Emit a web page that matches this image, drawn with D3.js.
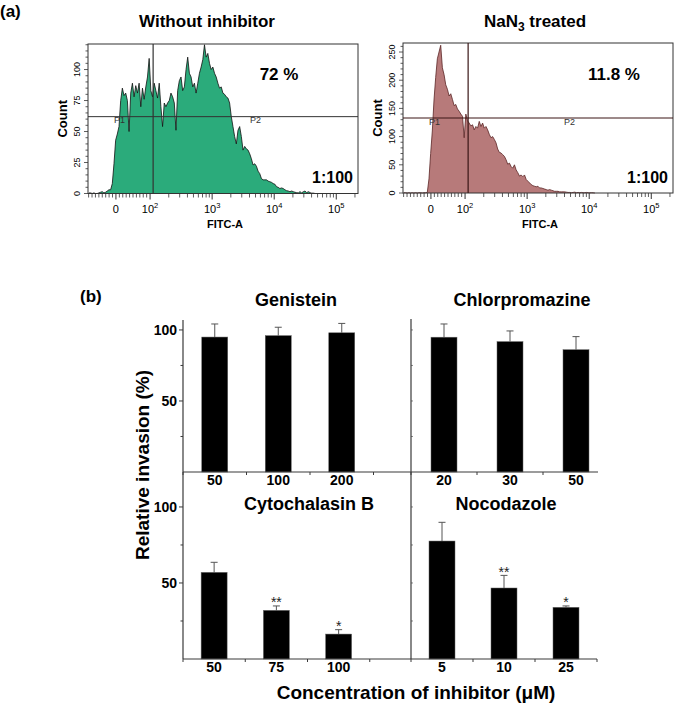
<!DOCTYPE html>
<html><head><meta charset="utf-8">
<script src="https://cdn.jsdelivr.net/npm/d3@7"></script>
<style>body{margin:0;background:#fff}svg{display:block}text{font-family:"Liberation Sans",Arial,sans-serif}</style>
</head><body><svg id="c" width="677" height="704"></svg>
<script>
// ---------------- DATA ----------------
// Histogram bins in display units (decades of the biexponential FITC-A axis)
const binStart = 1.0, binWidth = 0.027;
const withoutInhibitorCounts = [0.5,0.5,0,0.5,0,0,0.5,1,1.5,0.5, 1,2,3,3,8,24,43,48,54,75,
 85,79,81,75,50,81,89,78,87,81, 89,70,85,76,86,94,109,83,78,89,
 83,77,89,70,54,73,70,73,75,81, 78,73,51,83,91,94,83,86,100,110,
 97,94,86,89,81,89,97,102,108,120, 110,113,105,100,102,97,94,89,85,86,
 81,80,78,77,73,62,54,46,40,51, 54,46,35,38,36,35,32,28,23,24,
 22,18,16,12,11,11,11,10,9.5,9, 8,7.5,5.5,5,4,4.5,4,3,2.3,2,
 1.5,2,1.5,1,0.7,0.5,1.5,0.5,1.5,2, 0.7,1.5,0.7,0.3,0.3,0];
const nan3Counts = [0.5,0.5,0,0.5,0,0.5,0,0.5,0,0.5, 0.5,0,0.5,0.5,1,25,70,110,165,205,
 238,250,262,222,210,192,184,172,176,166, 155,157,149,145,140,136,98,140,128,124,
 119,121,112,118,115,127,118,124,115,118, 112,104,98,100,95,89,78,72,71,68,
 65,59,51,53,47,44,50,41,36,30, 32,29,32,24,21,18,15,13,12,11,
 12,9,9,8,7,6,5,6,5,4, 3,3,3,2,2,2,2,1.5,1,1,
 0.5,1,1.5,0.5,1,0.5,1,0.5,0.5,1, 0.5,0.3,0.5,0.3,0];
const fitcMajorValues = [0, 100, 1000, 10000, 100000];
const fitcMajorExp = [null, 2, 3, 4, 5];
const withoutYTicks = [0, 25, 50, 75, 100];
const nan3YTicks = [0, 50, 100, 150, 200, 250];
const gateFitc = 112;
const withoutGateCount = 62, nan3GateCount = 133;
const withoutPercent = "72 %", nan3Percent = "11.8 %", dilution = "1:100";

// Panel (b)
const genisteinConc = ["50", "100", "200"], genisteinMean = [95, 96, 98], genisteinErr = [9.2, 5.9, 6.6], genisteinSig = ["", "", ""];
const chlorConc = ["20", "30", "50"], chlorMean = [94.9, 91.8, 86.1], chlorErr = [9.3, 7.5, 9.2], chlorSig = ["", "", ""];
const cytoConc = ["50", "75", "100"], cytoMean = [57, 32, 16.4], cytoErr = [6.6, 2.9, 2.9], cytoSig = ["", "**", "*"];
const nocoConc = ["5", "10", "25"], nocoMean = [77.6, 46.7, 34], nocoErr = [12.3, 8.3, 0.9], nocoSig = ["", "**", "*"];
const yMajorTicks = [50, 100], yMinorTicks = [25, 75];

// ---------------- DRAW ----------------
const svg = d3.select("#c");
svg.append("rect").attr("width", 677).attr("height", 704).attr("fill", "#fff");

function disp(v) { return v >= 100 ? Math.log10(v) : 1.45 + 0.55 * v / 100; }

svg.append("text").attr("x", 0).attr("y", 17).attr("font-size", 17).attr("font-weight", "bold").text("(a)");

function drawHist(cfg) {
  const g = svg.append("g");
  const x = d3.scaleLinear().domain([1.0, 5.35]).range([cfg.x0, cfg.x1]);
  const y = d3.scaleLinear().domain([0, cfg.yMax]).range([cfg.yb, cfg.yt]);
  const pts = cfg.counts.map((c, i) => [binStart + (i + 0.5) * binWidth, c]);
  const area = d3.area().x(d => x(d[0])).y0(y(0)).y1(d => y(d[1]));
  const line = d3.line().x(d => x(d[0])).y(d => y(d[1]));
  g.append("path").datum(pts).attr("d", area).attr("fill", cfg.fill);
  g.append("path").datum(pts).attr("d", line).attr("fill", "none").attr("stroke", cfg.stroke).attr("stroke-width", 0.8).attr("stroke-linejoin", "round");
  // frame
  g.append("rect").attr("x", cfg.x0).attr("y", cfg.yt).attr("width", cfg.x1 - cfg.x0).attr("height", cfg.yb - cfg.yt)
    .attr("fill", "none").attr("stroke", "#333").attr("stroke-width", 1);
  // gates
  g.append("line").attr("x1", cfg.x0).attr("x2", cfg.x1).attr("y1", y(cfg.gateCount)).attr("y2", y(cfg.gateCount))
    .attr("stroke", cfg.gateColor).attr("stroke-width", 1);
  g.append("line").attr("x1", x(disp(gateFitc))).attr("x2", x(disp(gateFitc))).attr("y1", cfg.yt).attr("y2", cfg.yb)
    .attr("stroke", cfg.gateColor).attr("stroke-width", 1.2);
  g.append("text").attr("x", cfg.x0 + 26).attr("y", y(cfg.gateCount) + 6.5).attr("font-size", 9).attr("fill", "#333").text("P1");
  g.append("text").attr("x", cfg.p2x).attr("y", y(cfg.gateCount) + 6.5).attr("font-size", 9).attr("fill", "#333").text("P2");
  // x ticks
  const minor = [];
  for (let v = -80; v <= 90; v += 10) if (v !== 0) minor.push(v);
  [100, 1000, 10000].forEach(b => { for (let m = 2; m <= 9; m++) minor.push(b * m); });
  minor.push(200000);
  minor.forEach(v => {
    const d = disp(v); if (d < 1.0 || d > 5.35) return;
    g.append("line").attr("x1", x(d)).attr("x2", x(d)).attr("y1", cfg.yb).attr("y2", cfg.yb + 4).attr("stroke", "#333").attr("stroke-width", 0.8);
  });
  fitcMajorValues.forEach((v, i) => {
    const d = disp(v);
    g.append("line").attr("x1", x(d)).attr("x2", x(d)).attr("y1", cfg.yb).attr("y2", cfg.yb + 6).attr("stroke", "#333").attr("stroke-width", 1);
    const t = g.append("text").attr("x", x(d)).attr("y", 213).attr("font-size", 11).attr("text-anchor", "middle");
    if (fitcMajorExp[i] === null) t.text("0");
    else { t.append("tspan").text("10"); t.append("tspan").attr("font-size", 7.5).attr("dy", -5).text(fitcMajorExp[i]); }
  });
  // y ticks
  for (let c = 0; c <= cfg.yMax; c += cfg.minorStep) {
    const major = c % cfg.majorStep === 0;
    g.append("line").attr("x1", cfg.x0).attr("x2", cfg.x0 - (major ? 4 : 2.5)).attr("y1", y(c)).attr("y2", y(c)).attr("stroke", "#333").attr("stroke-width", 0.8);
  }
  cfg.yTicks.forEach(c => {
    g.append("text").attr("transform", `translate(${cfg.x0 - 8},${y(c)}) rotate(-90)`).attr("font-size", 9).attr("text-anchor", "middle").text(c);
  });
  g.append("text").attr("transform", `translate(${cfg.x0 - 21},${(cfg.yt + cfg.yb) / 2}) rotate(-90)`).attr("font-size", 13).attr("font-weight", "bold").attr("text-anchor", "middle").text("Count");
  g.append("text").attr("x", (cfg.x0 + cfg.x1) / 2 + 2).attr("y", 228).attr("font-size", 11).attr("font-weight", "bold").attr("text-anchor", "middle").text("FITC-A");
  g.append("text").attr("x", cfg.pctX).attr("y", 80).attr("font-size", 17).attr("font-weight", "bold").attr("text-anchor", "middle").text(cfg.pct);
  g.append("text").attr("x", cfg.x1 - 5).attr("y", 183).attr("font-size", 16).attr("font-weight", "bold").attr("text-anchor", "end").text(dilution);
  return g;
}

drawHist({x0: 88, x1: 358, yt: 44, yb: 193.5, yMax: 120.6, counts: withoutInhibitorCounts, fill: "#2bab7b", stroke: "#111",
  gateCount: withoutGateCount, gateColor: "#333", p2x: 250, yTicks: withoutYTicks, minorStep: 5, majorStep: 25, pct: withoutPercent, pctX: 279});
drawHist({x0: 403, x1: 673, yt: 43, yb: 193, yMax: 266, counts: nan3Counts, fill: "#b77a7a", stroke: "#5a2525",
  gateCount: nan3GateCount, gateColor: "#3a1515", p2x: 564, yTicks: nan3YTicks, minorStep: 10, majorStep: 50, pct: nan3Percent, pctX: 614});

svg.append("text").attr("x", 207).attr("y", 27).attr("font-size", 17).attr("font-weight", "bold").attr("text-anchor", "middle").text("Without inhibitor");
const tt = svg.append("text").attr("x", 535).attr("y", 27).attr("font-size", 17).attr("font-weight", "bold").attr("text-anchor", "middle");
tt.append("tspan").text("NaN");
tt.append("tspan").attr("font-size", 12).attr("dy", 4).text("3");
tt.append("tspan").attr("dy", -4).text(" treated");

// ---- panel (b)
svg.append("text").attr("x", 80).attr("y", 302).attr("font-size", 17).attr("font-weight", "bold").text("(b)");
const rows = [{yb: 472, yt: 320, yMax: 107, labelY: 485, titleY: 306}, {yb: 659, yt: 472, yMax: 123, labelY: 672, titleY: 510}];
const panels = [
  {name: "Genistein", conc: genisteinConc, mean: genisteinMean, err: genisteinErr, sig: genisteinSig, row: 0, x0: 183, x1: 411, step: 63.5, tx: 296},
  {name: "Chlorpromazine", conc: chlorConc, mean: chlorMean, err: chlorErr, sig: chlorSig, row: 0, x0: 411, x1: 598, step: 66, tx: 522},
  {name: "Cytochalasin B", conc: cytoConc, mean: cytoMean, err: cytoErr, sig: cytoSig, row: 1, x0: 183, x1: 411, step: 62.25, tx: 309},
  {name: "Nocodazole", conc: nocoConc, mean: nocoMean, err: nocoErr, sig: nocoSig, row: 1, x0: 411, x1: 597, step: 62, tx: 506}
];
const AX = "#3a3a3a";
panels.forEach(p => {
  const r = rows[p.row];
  const x = d3.scaleLinear().domain([0.5, 0.5 + (p.x1 - p.x0) / p.step]).range([p.x0, p.x1]);
  const y = d3.scaleLinear().domain([0, r.yMax]).range([r.yb, r.yt]);
  const g = svg.append("g");
  const bw = 26;
  p.mean.forEach((m, i) => {
    const cx = x(i + 1);
    const top = y(m + p.err[i]);
    g.append("line").attr("x1", cx).attr("x2", cx).attr("y1", y(m)).attr("y2", top).attr("stroke", "#555").attr("stroke-width", 1);
    g.append("line").attr("x1", cx - 3.5).attr("x2", cx + 3.5).attr("y1", top).attr("y2", top).attr("stroke", "#555").attr("stroke-width", 1);
    g.append("rect").attr("x", cx - bw / 2).attr("y", y(m)).attr("width", bw).attr("height", y(0) - y(m)).attr("fill", "#000").attr("stroke", "#666").attr("stroke-width", 0.5);
    if (p.sig[i]) g.append("text").attr("x", cx).attr("y", top + 1.5).attr("font-size", 14).attr("fill", "#222").attr("text-anchor", "middle").text(p.sig[i]);
    g.append("text").attr("x", cx).attr("y", r.labelY).attr("font-size", 14).attr("font-weight", "bold").attr("text-anchor", "middle").text(p.conc[i]);
  });
  // x axis
  g.append("line").attr("x1", p.x0).attr("x2", p.x1).attr("y1", r.yb).attr("y2", r.yb).attr("stroke", AX).attr("stroke-width", 1.2);
  [0.5, 1.5, 2.5, 3.5].forEach(t => {
    if (x(t) > p.x1 + 0.5) return;
    g.append("line").attr("x1", x(t)).attr("x2", x(t)).attr("y1", r.yb).attr("y2", r.yb + 3).attr("stroke", AX).attr("stroke-width", 1);
  });
  g.append("text").attr("x", p.tx).attr("y", r.titleY).attr("font-size", 18).attr("font-weight", "bold").attr("text-anchor", "middle").text(p.name);
  if (p.x0 === 183) {
    yMajorTicks.forEach(t => {
      g.append("line").attr("x1", p.x0).attr("x2", p.x0 - 4).attr("y1", y(t)).attr("y2", y(t)).attr("stroke", AX).attr("stroke-width", 1);
      g.append("text").attr("x", p.x0 - 6).attr("y", y(t)).attr("dy", "0.36em").attr("font-size", 14).attr("font-weight", "bold").attr("text-anchor", "end").text(t);
    });
    yMinorTicks.forEach(t => {
      g.append("line").attr("x1", p.x0).attr("x2", p.x0 - 2.5).attr("y1", y(t)).attr("y2", y(t)).attr("stroke", AX).attr("stroke-width", 1);
    });
  } else {
    yMajorTicks.concat(yMinorTicks).forEach(t => {
      g.append("line").attr("x1", p.x0).attr("x2", p.x0 + 2).attr("y1", y(t)).attr("y2", y(t)).attr("stroke", AX).attr("stroke-width", 0.6);
    });
  }
});
// vertical axes (continuous)
svg.append("line").attr("x1", 183).attr("x2", 183).attr("y1", rows[0].yt).attr("y2", rows[1].yb).attr("stroke", AX).attr("stroke-width", 1.2);
svg.append("line").attr("x1", 411).attr("x2", 411).attr("y1", rows[0].yt - 1).attr("y2", rows[1].yb).attr("stroke", AX).attr("stroke-width", 1.2);
svg.append("text").attr("transform", "translate(149,465) rotate(-90)").attr("font-size", 19).attr("font-weight", "bold").attr("text-anchor", "middle").text("Relative invasion (%)");
svg.append("text").attr("x", 416).attr("y", 699).attr("font-size", 19).attr("font-weight", "bold").attr("text-anchor", "middle").text("Concentration of inhibitor (\u03bcM)");
</script></body></html>
